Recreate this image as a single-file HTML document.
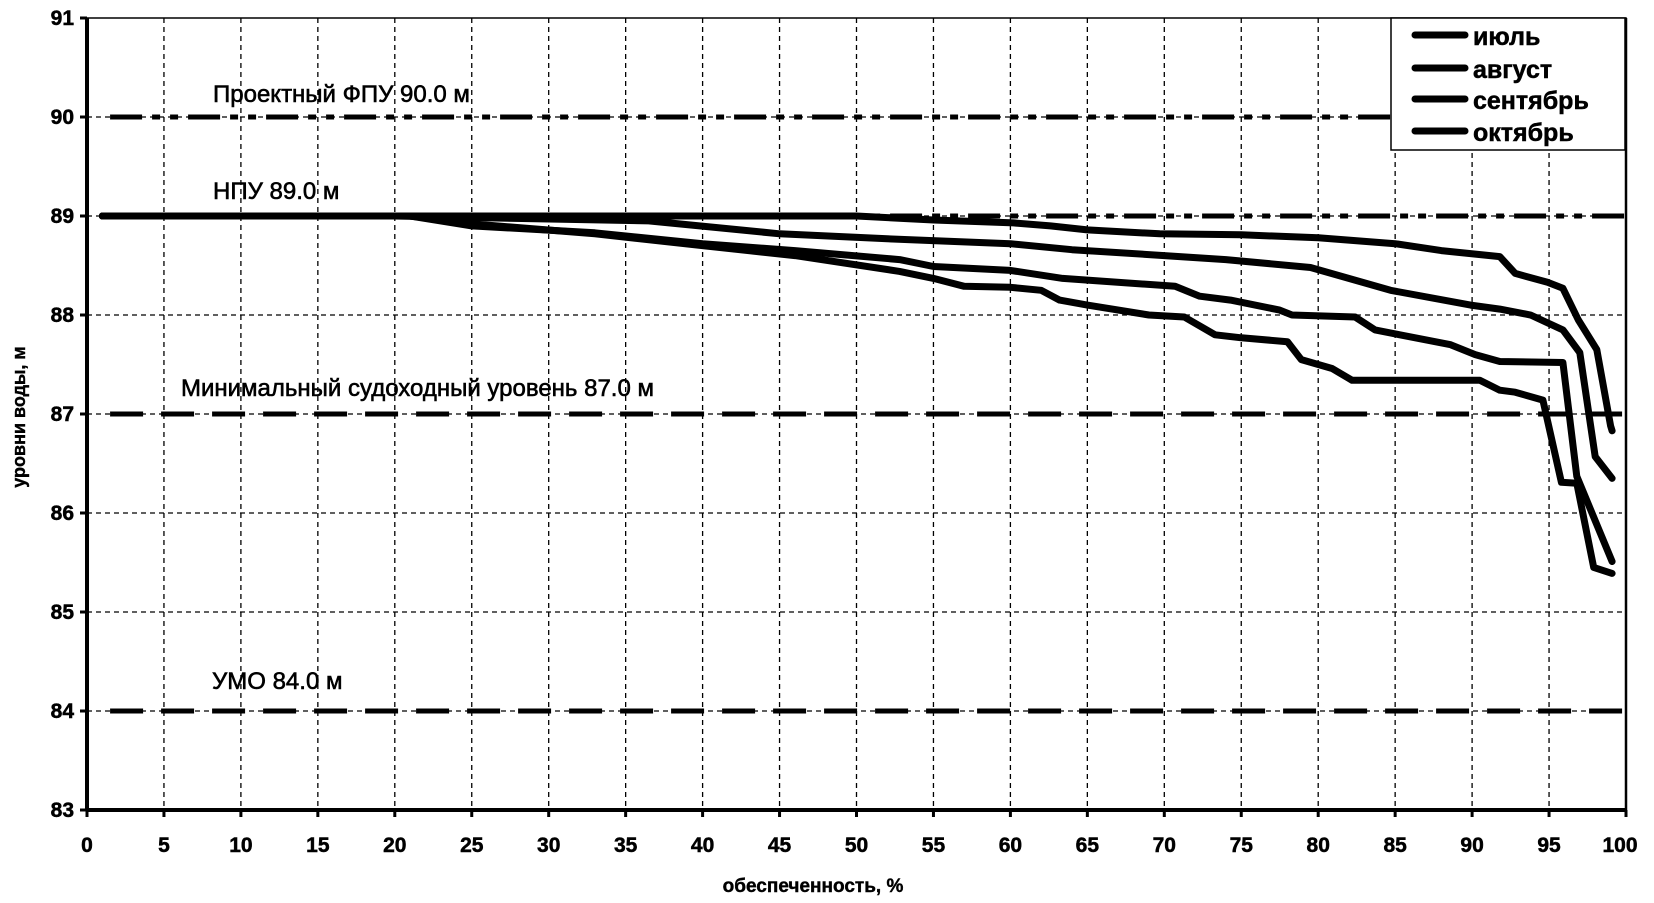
<!DOCTYPE html>
<html><head><meta charset="utf-8"><style>
body{margin:0;background:#fff;}
svg{display:block;font-family:"Liberation Sans",Arial,sans-serif;}
</style></head><body>
<svg id="s" width="1654" height="903" viewBox="0 0 1654 903" xmlns="http://www.w3.org/2000/svg">
<g id="grid" stroke="#000" stroke-width="1.3" stroke-dasharray="5 4" fill="none"></g>
<g id="ref" fill="none" stroke="#000"></g>
<g id="curves" fill="none" stroke="#000" stroke-width="7" stroke-linejoin="round" stroke-linecap="round"></g>
<rect x="87" y="18" width="1539" height="792" fill="none" stroke="#000" stroke-width="1.5"/>
<line x1="87" y1="18" x2="87" y2="810" stroke="#000" stroke-width="4"/>
<line x1="87" y1="810" x2="1626" y2="810" stroke="#000" stroke-width="4"/>
<line x1="1626" y1="18" x2="1626" y2="810" stroke="#000" stroke-width="2.5"/>
<g id="ticks" stroke="#000" stroke-width="3"></g>
<g id="ylab" font-size="21" font-weight="bold" text-anchor="end" stroke="#000" stroke-width="0.5"></g>
<g id="xlab" font-size="21" font-weight="bold" text-anchor="middle" stroke="#000" stroke-width="0.5"></g>
<g font-size="24" stroke="#000" stroke-width="0.6">
<text x="213" y="102">Проектный ФПУ 90.0 м</text>
<text x="213" y="199">НПУ 89.0 м</text>
<text x="181" y="396">Минимальный судоходный уровень 87.0 м</text>
<text x="212" y="689">УМО 84.0 м</text>
</g>
<text x="813" y="892" font-size="19" font-weight="bold" text-anchor="middle" stroke="#000" stroke-width="0.4">обеспеченность, %</text>
<text transform="translate(25,417) rotate(-90)" font-size="18" font-weight="bold" text-anchor="middle" stroke="#000" stroke-width="0.4">уровни воды, м</text>
<rect x="1391" y="18" width="234" height="132" fill="#fff" stroke="#000" stroke-width="1.5"/>
<g stroke="#000" stroke-width="7" stroke-linecap="round">
<line x1="1415" y1="35" x2="1465" y2="35"/>
<line x1="1415" y1="68" x2="1465" y2="68"/>
<line x1="1415" y1="99" x2="1465" y2="99"/>
<line x1="1415" y1="131" x2="1465" y2="131"/>
</g>
<g font-size="25" font-weight="bold" stroke="#000" stroke-width="0.5">
<text x="1473" y="45">июль</text>
<text x="1473" y="78">август</text>
<text x="1473" y="109">сентябрь</text>
<text x="1473" y="141">октябрь</text>
</g>
</svg>
<script>
var NS="http://www.w3.org/2000/svg";
function X(v){return 87+v*15.39;}
function Y(v){return 810-(v-83)*99;}
function el(p,t,a){var e=document.createElementNS(NS,t);for(var k in a)e.setAttribute(k,a[k]);document.getElementById(p).appendChild(e);return e;}
for(var i=5;i<100;i+=5)el("grid","line",{x1:X(i),y1:18,x2:X(i),y2:810});
for(var v=84;v<91;v++)el("grid","line",{x1:87,y1:Y(v),x2:1626,y2:Y(v)});
for(var i=0;i<=100;i+=5){el("ticks","line",{x1:X(i),y1:810,x2:X(i),y2:817});el("xlab","text",{x:X(i)+(i==100?-6:0),y:852}).textContent=i;}
for(var v=83;v<=91;v++){el("ticks","line",{x1:80,y1:Y(v),x2:87,y2:Y(v)});el("ylab","text",{x:74,y:Y(v)+7}).textContent=v;}
el("ref","line",{x1:X(1.5),y1:Y(90),x2:1626,y2:Y(90),"stroke-width":5,"stroke-dasharray":"32 10 8 10 8 10"});
el("ref","line",{x1:X(1.5),y1:Y(89),x2:1626,y2:Y(89),"stroke-width":5,"stroke-dasharray":"32 10 8 10 8 10"});
el("ref","line",{x1:X(1.5),y1:Y(87),x2:1626,y2:Y(87),"stroke-width":5,"stroke-dasharray":"33 18"});
el("ref","line",{x1:X(1.5),y1:Y(84),x2:1626,y2:Y(84),"stroke-width":5,"stroke-dasharray":"33 18"});
var C=[
[[1,89],[50,89],[55,88.96],[60.2,88.93],[62.6,88.9],[65,88.86],[69.7,88.82],[75,88.81],[80,88.78],[85,88.72],[88,88.65],[91.8,88.59],[92.8,88.42],[94.9,88.33],[95.9,88.27],[96.9,87.95],[98.1,87.65],[99,86.88],[99.1,86.83]],
[[1,89],[20,89],[30,88.97],[36.5,88.95],[45,88.82],[52,88.77],[60,88.72],[64,88.66],[70,88.6],[74,88.56],[79.5,88.48],[84.7,88.25],[89.9,88.1],[91.8,88.06],[93.8,88],[95.9,87.85],[97,87.62],[98,86.57],[99.1,86.35]],
[[1,89],[21,89],[25,88.9],[33,88.83],[40,88.72],[46,88.65],[52.8,88.56],[55,88.49],[60,88.45],[63.4,88.37],[70.7,88.29],[72.3,88.19],[74.3,88.15],[77.5,88.05],[78.3,88.0],[82.4,87.98],[83.7,87.85],[85.3,87.8],[88.6,87.7],[90.2,87.6],[91.8,87.53],[95.9,87.52],[96.8,86.37],[99.1,85.51]],
[[1,89],[21,89],[25,88.92],[33,88.82],[40,88.7],[46,88.6],[52.8,88.44],[55,88.37],[57,88.29],[60,88.28],[62,88.25],[63.2,88.15],[65,88.1],[69,88],[71.3,87.98],[73.3,87.8],[75,87.77],[78,87.73],[78.9,87.55],[80.9,87.46],[82.2,87.34],[90.5,87.34],[91.8,87.24],[92.8,87.22],[94.6,87.14],[95.8,86.31],[96.8,86.3],[97.9,85.45],[99.1,85.39]]
];
C.forEach(function(c){el("curves","polyline",{points:c.map(function(p){return X(p[0]).toFixed(1)+","+Y(p[1]).toFixed(1);}).join(" ")});});
</script>
</body></html>
